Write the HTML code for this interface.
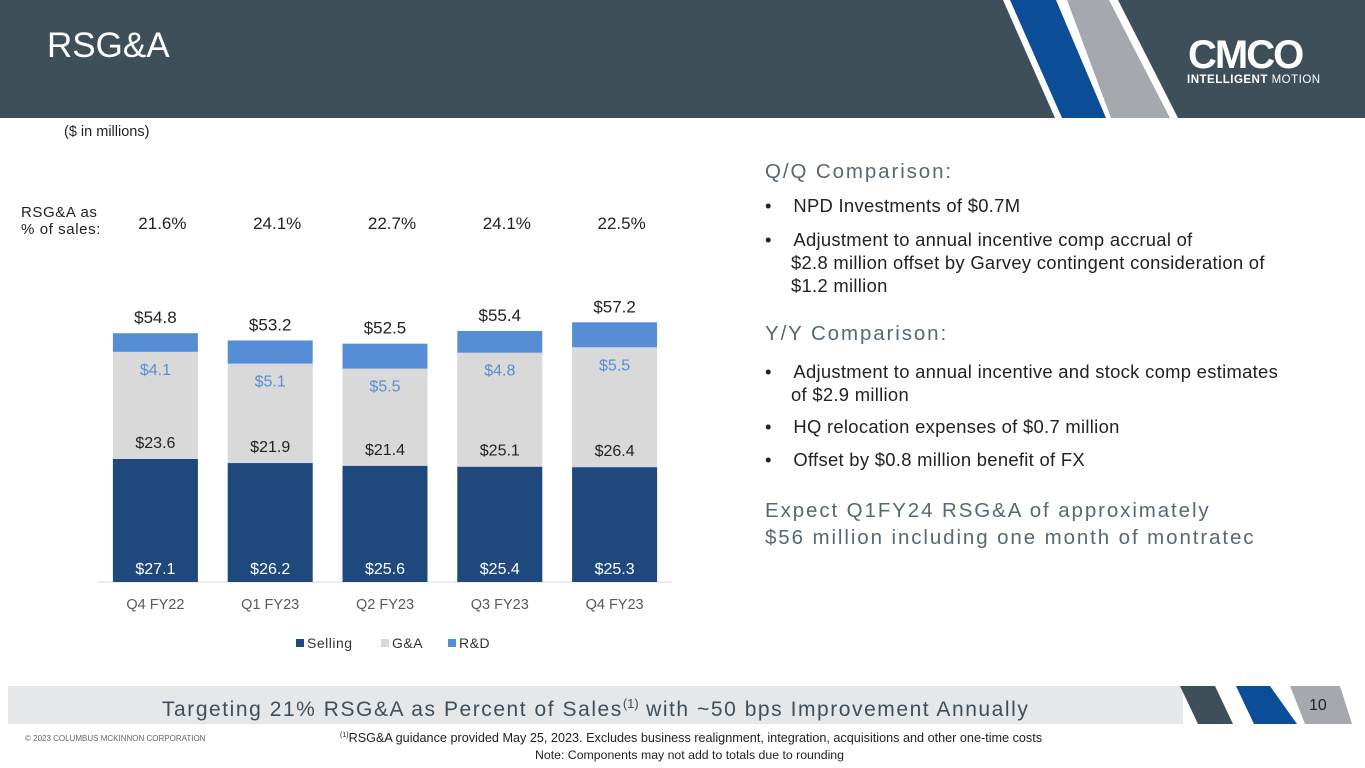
<!DOCTYPE html>
<html><head><meta charset="utf-8"><style>
body{margin:0;width:1365px;height:768px;position:relative;overflow:hidden;background:#fff;font-family:"Liberation Sans",sans-serif;}
.a{position:absolute;white-space:nowrap}
.rt{color:#222;font-size:18.4px;letter-spacing:0.3px}
.h{color:#576875;font-size:20.5px;letter-spacing:1.9px}
</style></head><body>
<svg class="a" style="left:0;top:0" width="1365" height="768">
<rect x="0" y="0" width="1365" height="118" fill="#3f4f5a"/>
<polygon points="1003,0 1118,0 1178,118 1055,118" fill="#fff"/>
<polygon points="1010,0 1056,0 1106,118 1062,118" fill="#0b4d96"/>
<polygon points="1067,0 1109,0 1170,118 1111,118" fill="#a5a9ad"/>
<rect x="8" y="686" width="1175" height="38" fill="#e6e7e9"/>
<polygon points="1180,686 1215,686 1233,724 1198,724" fill="#3f4f5a"/>
<polygon points="1236,686 1270,686 1297,724 1254,724" fill="#0b4d96"/>
<polygon points="1290,686 1340,686 1352,724 1305,724" fill="#a5a9ad"/>
</svg>
<div class="a" style="left:47px;top:26px;font-size:35px;color:#fff">RSG&amp;A</div>
<div class="a" style="left:1188px;top:33px;font-size:40px;font-weight:bold;color:#fff;letter-spacing:-2px">CMCO</div>
<div class="a" style="left:1187px;top:74px;font-size:11.5px;color:#fff;letter-spacing:0.5px"><b>INTELLIGENT</b> MOTION</div>
<div class="a" style="left:1309px;top:697px;font-size:16px;color:#222">10</div>
<div class="a" style="left:162px;top:696px;font-size:21px;color:#3f4f5a;letter-spacing:1.55px">Targeting 21% RSG&amp;A as Percent of Sales<sup style="font-size:13px;letter-spacing:0">(1)</sup> with ~50 bps Improvement Annually</div>
<div class="a" style="left:25px;top:734px;font-size:8px;color:#666">© 2023 COLUMBUS MCKINNON CORPORATION</div>
<div class="a" style="left:340px;top:731px;font-size:12.65px;color:#222"><sup style="font-size:7px">(1)</sup>RSG&amp;A guidance provided May 25, 2023. Excludes business realignment, integration, acquisitions and other one-time costs</div>
<div class="a" style="left:535px;top:748px;font-size:12.3px;color:#222">Note: Components may not add to totals due to rounding</div>

<div class="a" style="left:64px;top:124px;font-size:14.5px;color:#222">($ in millions)</div>
<div class="a" style="left:21px;top:204px;font-size:15px;color:#222;line-height:17px;letter-spacing:0.6px">RSG&amp;A as<br>% of sales:</div>

<div class="a h" style="left:765px;top:160px">Q/Q Comparison:</div>
<div class="a rt" style="left:765px;top:195px">•&nbsp;&nbsp;&nbsp;&nbsp;NPD Investments of $0.7M</div>
<div class="a rt" style="left:765px;top:228px;line-height:23px">•&nbsp;&nbsp;&nbsp;&nbsp;Adjustment to annual incentive comp accrual of<br><span style="padding-left:26px">$2.8 million offset by Garvey contingent consideration of</span><br><span style="padding-left:26px">$1.2 million</span></div>
<div class="a h" style="left:765px;top:322px">Y/Y Comparison:</div>
<div class="a rt" style="left:765px;top:360px;line-height:23px">•&nbsp;&nbsp;&nbsp;&nbsp;Adjustment to annual incentive and stock comp estimates<br><span style="padding-left:26px">of $2.9 million</span></div>
<div class="a rt" style="left:765px;top:416px">•&nbsp;&nbsp;&nbsp;&nbsp;HQ relocation expenses of $0.7 million</div>
<div class="a rt" style="left:765px;top:449px">•&nbsp;&nbsp;&nbsp;&nbsp;Offset by $0.8 million benefit of FX</div>
<div class="a h" style="left:765px;top:497px;line-height:27px">Expect Q1FY24 RSG&amp;A of approximately<br>$56 million including one month of montratec</div>

<svg id="chart" class="a" style="left:0;top:0" width="760" height="680"></svg>
<script>
const categories=["Q4 FY22","Q1 FY23","Q2 FY23","Q3 FY23","Q4 FY23"];
const selling=[27.1,26.2,25.6,25.4,25.3];
const ga=[23.6,21.9,21.4,25.1,26.4];
const rd=[4.1,5.1,5.5,4.8,5.5];
const totals=[54.8,53.2,52.5,55.4,57.2];
const pcts=["21.6%","24.1%","22.7%","24.1%","22.5%"];
const svg=document.getElementById('chart');
const NS='http://www.w3.org/2000/svg';
const base=582,scale=4.54,x0=98,step=114.8,bw=85;
const y=v=>base-v*scale;
const cx=i=>x0+step*(i+0.5);
function mk(tag,attrs,txt){const e=document.createElementNS(NS,tag);for(const k in attrs)e.setAttribute(k,attrs[k]);if(txt!==undefined)e.textContent=txt;svg.appendChild(e);return e;}
const ax=mk('line',{x1:x0,x2:x0+step*5,y1:base,y2:base,stroke:'#d9d9d9'});


categories.forEach((c,i)=>{
  const s0=selling[i],s1=s0+ga[i],s2=s1+rd[i];
  const b1=mk('rect',{x:cx(i)-bw/2,y:y(s0),width:bw,height:s0*scale,fill:'#1f497d'});
  
  
  const b2=mk('rect',{x:cx(i)-bw/2,y:y(s1),width:bw,height:ga[i]*scale,fill:'#d9d9d9'});
  
  
  const b3=mk('rect',{x:cx(i)-bw/2,y:y(s2),width:bw,height:rd[i]*scale,fill:'#558ed5'});
  
  
  const t1=mk('text',{x:cx(i),y:base-8,'text-anchor':'middle','font-size':16,fill:'#fff'},'$'+selling[i].toFixed(1));
  
  
  const t2=mk('text',{x:cx(i),y:y(s0)-11,'text-anchor':'middle','font-size':16,fill:'#222'},'$'+ga[i].toFixed(1));
  
  
  const t3=mk('text',{x:cx(i),y:y(s1)+23,'text-anchor':'middle','font-size':16,fill:'#558ed5'},'$'+rd[i].toFixed(1));
  
  
  const t4=mk('text',{x:cx(i),y:y(s2)-10,'text-anchor':'middle','font-size':17,fill:'#222'},'$'+totals[i].toFixed(1));
  
  
  const t5=mk('text',{x:cx(i)+7,y:229,'text-anchor':'middle','font-size':17,fill:'#222'},pcts[i]);
  
  
  const t6=mk('text',{x:cx(i),y:609,'text-anchor':'middle','font-size':14.5,fill:'#595959'},c);
  
  
});
const leg=[["Selling",'#1f497d',296],["G&A",'#d9d9d9',381],["R&D",'#558ed5',448]];
leg.forEach(l=>{
  const r=mk('rect',{x:l[2],y:639,width:8,height:8,fill:l[1]});
  
  
  const t=mk('text',{x:l[2]+11,y:648,'font-size':14,fill:'#333','letter-spacing':0.5},l[0]);
  
  
});
</script>
</body></html>
